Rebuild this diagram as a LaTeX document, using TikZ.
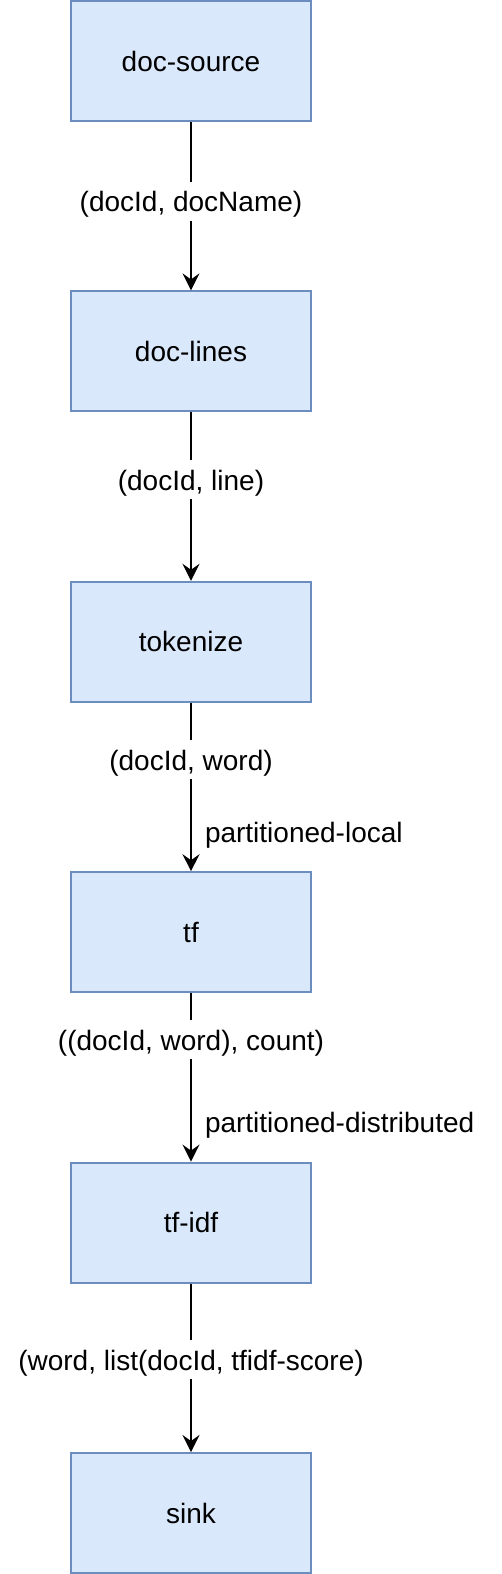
\documentclass[tikz,border=0pt]{standalone}
\usepackage{fontspec}
\setmainfont{Liberation Sans}
\usetikzlibrary{arrows.meta}

\definecolor{opfill}{HTML}{DAE8FC}
\definecolor{opline}{HTML}{6C8EBF}

\tikzset{
	op/.style={draw=opline, fill=opfill, line width=1pt, minimum width=120pt, minimum height=60pt, inner sep=0pt},
	tuple/.style={fill=white, anchor=base, inner sep=2pt, text height=13pt, text depth=2.5pt},
	part/.style={anchor=base west, inner sep=0pt, xshift=6.5pt}
}

\begin{document}
\begin{tikzpicture}[x=0.5pt, y=-0.5pt, ->, >={Stealth[length=8.5pt, width=8.5pt, inset=3pt]}, line width=1pt, font=\fontsize{14}{16.8}\selectfont]
		\useasboundingbox (0, 0) rectangle (502, 1574);
		\node[op] (src) at (191, 61) {doc-source};
		\node[op] (lines) at (191, 351.4) {doc-lines};
		\node[op] (tok) at (191, 641.8) {tokenize};
		\node[op] (tf) at (191, 932.2) {tf};
		\node[op] (tfidf) at (191, 1222.6) {tf-idf};
		\node[op] (sink) at (191, 1513) {sink};
		
		\path (src) edge node[tuple, pos=0.534] {(docId, docName)} (lines)
			(lines) edge node[tuple, pos=0.461] {(docId, line)} (tok)
			(tok) edge node[tuple, pos=0.4] {(docId, word)}
				node[part, pos=0.829] {partitioned-local} (tf)
			(tf) edge node[tuple, pos=0.339] {((docId, word), count)}
				node[part, pos=0.826] {partitioned-distributed} (tfidf)
			(tfidf) edge node[tuple, pos=0.513] {(word, list(docId, tfidf-score)} (sink);
	\end{tikzpicture}
\end{document}
